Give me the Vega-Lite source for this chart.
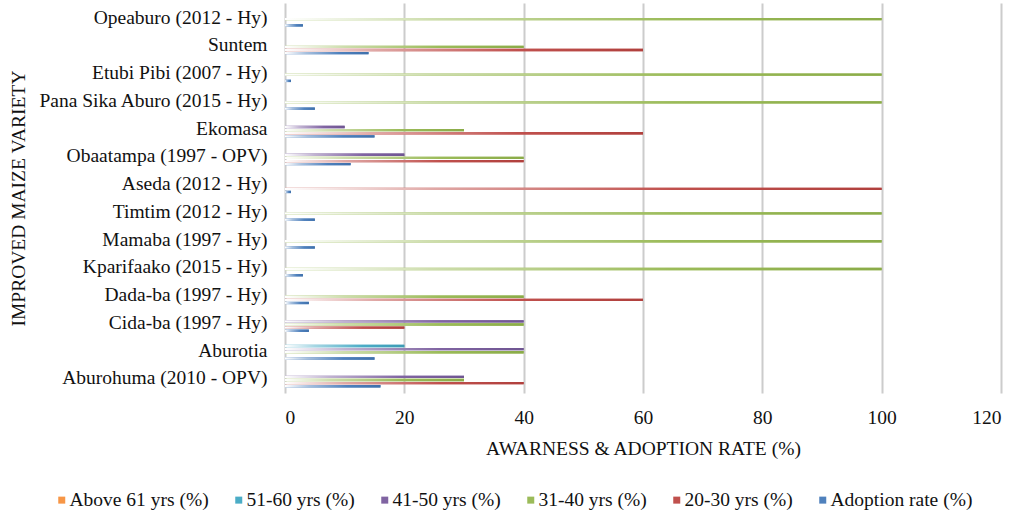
{
  "$schema": "https://vega.github.io/schema/vega-lite/v6.json",
  "width": 716,
  "height": 390,
  "autosize": {"type": "none"},
  "padding": {"left": 285, "top": 3, "right": 20, "bottom": 123},
  "background": "white",
  "config": {
    "font": "Liberation Serif",
    "view": {"stroke": null},
    "axis": {"labelColor": "#111111", "titleColor": "#111111", "titleFontWeight": "normal"},
    "legend": {"labelColor": "#111111"}
  },
  "data": {
    "values": [
      {"variety": "Opeaburo (2012 - Hy)", "group": "31-40 yrs (%)", "value": 100},
      {"variety": "Opeaburo (2012 - Hy)", "group": "Adoption rate (%)", "value": 3},
      {"variety": "Suntem", "group": "31-40 yrs (%)", "value": 40},
      {"variety": "Suntem", "group": "20-30 yrs (%)", "value": 60},
      {"variety": "Suntem", "group": "Adoption rate (%)", "value": 14},
      {"variety": "Etubi Pibi (2007 - Hy)", "group": "31-40 yrs (%)", "value": 100},
      {"variety": "Etubi Pibi (2007 - Hy)", "group": "Adoption rate (%)", "value": 1},
      {"variety": "Pana Sika Aburo (2015 - Hy)", "group": "31-40 yrs (%)", "value": 100},
      {"variety": "Pana Sika Aburo (2015 - Hy)", "group": "Adoption rate (%)", "value": 5},
      {"variety": "Ekomasa", "group": "41-50 yrs (%)", "value": 10},
      {"variety": "Ekomasa", "group": "31-40 yrs (%)", "value": 30},
      {"variety": "Ekomasa", "group": "20-30 yrs (%)", "value": 60},
      {"variety": "Ekomasa", "group": "Adoption rate (%)", "value": 15},
      {"variety": "Obaatampa (1997 - OPV)", "group": "41-50 yrs (%)", "value": 20},
      {"variety": "Obaatampa (1997 - OPV)", "group": "31-40 yrs (%)", "value": 40},
      {"variety": "Obaatampa (1997 - OPV)", "group": "20-30 yrs (%)", "value": 40},
      {"variety": "Obaatampa (1997 - OPV)", "group": "Adoption rate (%)", "value": 11},
      {"variety": "Aseda (2012 - Hy)", "group": "20-30 yrs (%)", "value": 100},
      {"variety": "Aseda (2012 - Hy)", "group": "Adoption rate (%)", "value": 1},
      {"variety": "Timtim (2012 - Hy)", "group": "31-40 yrs (%)", "value": 100},
      {"variety": "Timtim (2012 - Hy)", "group": "Adoption rate (%)", "value": 5},
      {"variety": "Mamaba (1997 - Hy)", "group": "31-40 yrs (%)", "value": 100},
      {"variety": "Mamaba (1997 - Hy)", "group": "Adoption rate (%)", "value": 5},
      {"variety": "Kparifaako (2015 - Hy)", "group": "31-40 yrs (%)", "value": 100},
      {"variety": "Kparifaako (2015 - Hy)", "group": "Adoption rate (%)", "value": 3},
      {"variety": "Dada-ba (1997 - Hy)", "group": "31-40 yrs (%)", "value": 40},
      {"variety": "Dada-ba (1997 - Hy)", "group": "20-30 yrs (%)", "value": 60},
      {"variety": "Dada-ba (1997 - Hy)", "group": "Adoption rate (%)", "value": 4},
      {"variety": "Cida-ba (1997 - Hy)", "group": "41-50 yrs (%)", "value": 40},
      {"variety": "Cida-ba (1997 - Hy)", "group": "31-40 yrs (%)", "value": 40},
      {"variety": "Cida-ba (1997 - Hy)", "group": "20-30 yrs (%)", "value": 20},
      {"variety": "Cida-ba (1997 - Hy)", "group": "Adoption rate (%)", "value": 4},
      {"variety": "Aburotia", "group": "51-60 yrs (%)", "value": 20},
      {"variety": "Aburotia", "group": "41-50 yrs (%)", "value": 40},
      {"variety": "Aburotia", "group": "31-40 yrs (%)", "value": 40},
      {"variety": "Aburotia", "group": "Adoption rate (%)", "value": 15},
      {"variety": "Aburohuma (2010 - OPV)", "group": "41-50 yrs (%)", "value": 30},
      {"variety": "Aburohuma (2010 - OPV)", "group": "31-40 yrs (%)", "value": 30},
      {"variety": "Aburohuma (2010 - OPV)", "group": "20-30 yrs (%)", "value": 40},
      {"variety": "Aburohuma (2010 - OPV)", "group": "Adoption rate (%)", "value": 16}
    ]
  },
  "encoding": {
    "y": {
      "field": "variety",
      "type": "nominal",
      "sort": [
        "Opeaburo (2012 - Hy)", "Suntem", "Etubi Pibi (2007 - Hy)", "Pana Sika Aburo (2015 - Hy)",
        "Ekomasa", "Obaatampa (1997 - OPV)", "Aseda (2012 - Hy)", "Timtim (2012 - Hy)",
        "Mamaba (1997 - Hy)", "Kparifaako (2015 - Hy)", "Dada-ba (1997 - Hy)", "Cida-ba (1997 - Hy)",
        "Aburotia", "Aburohuma (2010 - OPV)"
      ],
      "scale": {"paddingInner": 0.352, "paddingOuter": 0.2},
      "axis": {
        "title": "IMPROVED MAIZE VARIETY",
        "titleFontSize": 19.5,
        "titleAngle": -90,
        "titleAlign": "center",
        "titleBaseline": "middle",
        "titleX": -267,
        "titleY": 195,
        "labelFontSize": 19.5,
        "labelLimit": 0,
        "labelPadding": 18,
        "ticks": false,
        "tickSize": 0,
        "domain": false,
        "grid": false
      }
    },
    "yOffset": {
      "field": "group",
      "type": "nominal",
      "scale": {
        "domain": ["Above 61 yrs (%)", "51-60 yrs (%)", "41-50 yrs (%)", "31-40 yrs (%)", "20-30 yrs (%)", "Adoption rate (%)"],
        "paddingInner": 0.25,
        "paddingOuter": 0
      }
    },
    "x": {
      "field": "value",
      "type": "quantitative",
      "scale": {"domain": [0, 120], "nice": false},
      "axis": {
        "title": "AWARNESS & ADOPTION RATE (%)",
        "titleFontSize": 19.5,
        "titleBaseline": "middle",
        "titleY": 55,
        "values": [0, 20, 40, 60, 80, 100, 120],
        "labelFontSize": 19.5,
        "labelPadding": 15,
        "ticks": false,
        "tickSize": 0,
        "domain": false,
        "grid": true,
        "gridColor": "#cccccc",
        "gridWidth": 2
      }
    }
  },
  "layer": [
    {
      "mark": {"type": "bar"},
      "encoding": {
        "color": {
          "field": "group",
          "type": "nominal",
          "scale": {
            "domain": ["Above 61 yrs (%)", "51-60 yrs (%)", "41-50 yrs (%)", "31-40 yrs (%)", "20-30 yrs (%)", "Adoption rate (%)"],
            "range": ["#F79646", "#4BACC6", "#8064A2", "#9BBB59", "#C0504D", "#4F81BD"]
          },
          "legend": {
            "title": null,
            "orient": "none",
            "direction": "horizontal",
            "columns": 6,
            "legendX": -233,
            "legendY": 487,
            "padding": 0,
            "symbolType": "square",
            "symbolSize": 49,
            "symbolStrokeWidth": 0,
            "labelFontSize": 19.5,
            "labelOffset": -2,
            "columnPadding": 20
          }
        }
      }
    },
    {
      "transform": [{"filter": "datum.group === '51-60 yrs (%)'"}],
      "mark": {"type": "bar", "color": {"gradient": "linear", "x1": 0, "y1": 0, "x2": 1, "y2": 0,
        "stops": [{"offset": 0, "color": "#ffffff"}, {"offset": 0.25, "color": "#a5d6e3"}, {"offset": 0.65, "color": "#4BACC6"}, {"offset": 1, "color": "#3d9bb4"}]}}
    },
    {
      "transform": [{"filter": "datum.group === '41-50 yrs (%)'"}],
      "mark": {"type": "bar", "color": {"gradient": "linear", "x1": 0, "y1": 0, "x2": 1, "y2": 0,
        "stops": [{"offset": 0, "color": "#ffffff"}, {"offset": 0.25, "color": "#c0b2d1"}, {"offset": 0.65, "color": "#8064A2"}, {"offset": 1, "color": "#6f5592"}]}}
    },
    {
      "transform": [{"filter": "datum.group === '31-40 yrs (%)'"}],
      "mark": {"type": "bar", "color": {"gradient": "linear", "x1": 0, "y1": 0, "x2": 1, "y2": 0,
        "stops": [{"offset": 0, "color": "#ffffff"}, {"offset": 0.25, "color": "#cdddac"}, {"offset": 0.65, "color": "#9BBB59"}, {"offset": 1, "color": "#8aab48"}]}}
    },
    {
      "transform": [{"filter": "datum.group === '20-30 yrs (%)'"}],
      "mark": {"type": "bar", "color": {"gradient": "linear", "x1": 0, "y1": 0, "x2": 1, "y2": 0,
        "stops": [{"offset": 0, "color": "#ffffff"}, {"offset": 0.25, "color": "#e0a8a6"}, {"offset": 0.65, "color": "#C0504D"}, {"offset": 1, "color": "#b0403d"}]}}
    },
    {
      "transform": [{"filter": "datum.group === 'Adoption rate (%)'"}],
      "mark": {"type": "bar", "color": {"gradient": "linear", "x1": 0, "y1": 0, "x2": 1, "y2": 0,
        "stops": [{"offset": 0, "color": "#ffffff"}, {"offset": 0.25, "color": "#a7c0de"}, {"offset": 0.65, "color": "#4F81BD"}, {"offset": 1, "color": "#3f70ab"}]}}
    }
  ]
}
